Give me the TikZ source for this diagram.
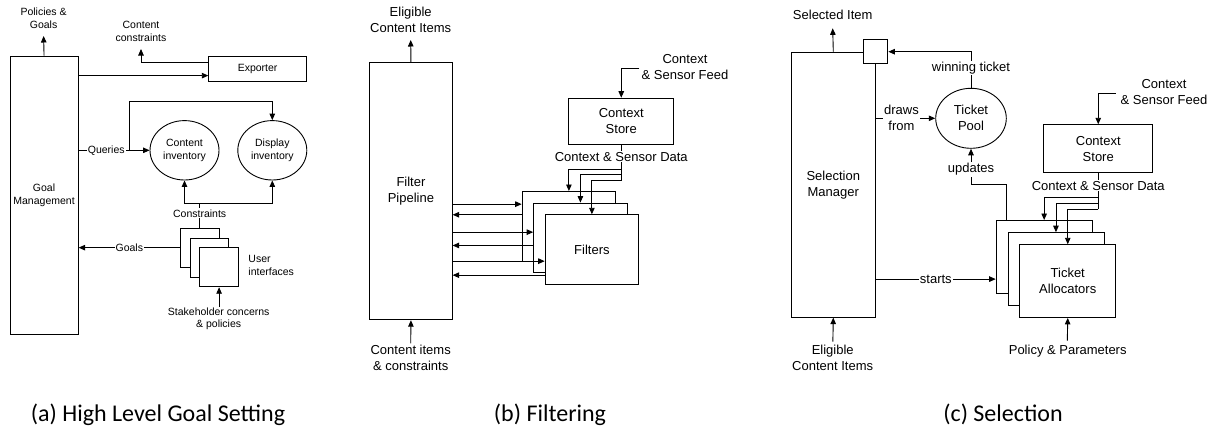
\documentclass[tikz,border=0pt]{standalone}
\usepackage{fontspec}
\setmainfont{Liberation Sans}
\newfontfamily\capfont{Carlito}
\usetikzlibrary{arrows.meta,shapes.geometric}
\begin{document}
\begin{tikzpicture}[x=1pt,y=-1pt,
  line width=0.9pt,
  >={Triangle[length=6.5pt,width=5.5pt]},
  fa/.style={font=\fontsize{10.5}{12.8}\selectfont},
  fb/.style={font=\fontsize{13}{16}\selectfont},
  box/.style={draw, fill=white, inner sep=0pt, anchor=north west, align=center},
  oval/.style={draw, ellipse, fill=white, inner sep=0pt, align=center},
  lbl/.style={inner sep=1pt, align=center},
  onl/.style={fill=white, inner sep=1pt, align=center},
  captxt/.style={font=\capfont\fontsize{24}{28}\selectfont, anchor=base, inner sep=0pt}
]
\useasboundingbox (0,0) rectangle (1215,432);

% ---------------- (a) high level goal setting ----------------
\node[box, fa, minimum width=68.2, minimum height=278.3] (gm) at (9.5,55.7) {Goal\\Management};
\node[box, fa, minimum width=97.7, minimum height=25.3] (exp) at (208.3,55.7) {Exporter};
\node[oval, fa, minimum width=69, minimum height=59.4] (ci) at (184.5,150.3) {Content\\inventory};
\node[oval, fa, minimum width=69, minimum height=59.4] (di) at (272.3,150.3) {Display\\inventory};
\node[box, minimum width=38.5, minimum height=39] (ui1) at (180,227.7) {};
\node[box, minimum width=38.5, minimum height=39] (ui2) at (189.7,237.5) {};
\node[box, minimum width=38.5, minimum height=39] (ui3) at (199.4,247.3) {};

\node[lbl, fa] (pg) at (43.6,18) {Policies \&\\Goals};
\node[lbl, fa] (cc) at (141,31) {Content\\constraints};
\node[lbl, fa, align=left, anchor=west] (uil) at (247,265.3) {User\\interfaces};
\node[lbl, fa] (sh) at (218.7,318.7) {Stakeholder concerns\\\& policies};

\coordinate (pgTip) at (43.6,36);
\coordinate (ccTip) at (141,49);
\coordinate (expIn) at ([yshift=-6.8pt]exp.west);
\coordinate (expOut) at ([yshift=6.4pt]exp.west);
\coordinate (qBranch) at (129.3,150.3);
\coordinate (diTop) at ([yshift=19pt]di.north);
\coordinate (cj) at ([yshift=24.4pt]ui1.north);
\coordinate (shTail) at ([yshift=-20pt]ui3.south);

\draw[->] (gm.north) -- (pgTip);
\draw[->] (gm.east |- expIn) -- (expIn);
\draw[->] (expOut) -| (ccTip);
\draw[->] (gm.east |- ci.west) -- node[onl, fa, pos=0.39] {Queries} (ci.west);
\draw[->] (qBranch) |- (diTop) -- (di.north);
\draw (ui1.north) -- node[onl, fa, pos=0.59] {Constraints} (cj);
\draw[->] (cj) -| (ci.south);
\draw[->] (cj) -| (di.south);
\draw[->] (ui1.west) -- node[onl, fa, pos=0.5] {Goals} (gm.east |- ui1.west);
\draw[->] (shTail) -- (ui3.south);

% ---------------- (b) filtering ----------------
\node[box, fb, minimum width=82.4, minimum height=257] (fp) at (369.3,62.3) {Filter\\Pipeline};
\node[box, fb, minimum width=105, minimum height=46.3] (cs) at (568.3,97.7) {Context\\Store};
\node[box, minimum width=93.5, minimum height=69.7] (f1) at (521.7,191) {};
\node[box, minimum width=93.5, minimum height=69.7] (f2) at (533.2,202.6) {};
\node[box, fb, minimum width=93.5, minimum height=69.7] (f3) at (544.7,214.3) {Filters};

\node[lbl, fb] (eci) at (410.7,20) {Eligible\\Content Items};
\node[lbl, fb] (cic) at (410.7,358.3) {Content items\\\& constraints};
\node[lbl, fb] (feedb) at (685,67) {Context\\\& Sensor Feed};

\coordinate (eciTip) at (410.7,40);
\coordinate (cicTail) at (410.7,343.3);
\coordinate (feedbT) at (639.3,68.3);
\coordinate (db1) at ([yshift=-24.3pt]cs.south);
\coordinate (db2) at ([yshift=-29.5pt]cs.south);
\coordinate (db3) at ([yshift=-36pt]cs.south);
\coordinate (fin1) at ([yshift=22.15pt]f1.west);
\coordinate (fout1) at ([yshift=11.55pt]f1.west);
\coordinate (fin2) at ([yshift=5.75pt]f2.west);
\coordinate (fout2) at ([yshift=-7.55pt]f2.west);
\coordinate (fin3) at ([yshift=-11.55pt]f3.west);
\coordinate (fout3) at ([yshift=-25.55pt]f3.west);

\draw[->] (fp.north) -- (eciTip);
\draw[->] (cicTail) -- (fp.south);
\draw[->] (feedbT) -| (cs.north);
\draw (cs.south) -- node[onl, fb, pos=0.325] {Context \& Sensor Data} (db3);
\draw[->] (db1) -| (f1.north);
\draw[->] (db2) -| (f2.north);
\draw[->] (db3) -| (f3.north);
\draw[->] (fp.east |- fin1) -- (fin1);
\draw[->] (fout1) -- (fp.east |- fout1);
\draw[->] (fp.east |- fin2) -- (fin2);
\draw[->] (fout2) -- (fp.east |- fout2);
\draw[->] (fp.east |- fin3) -- (fin3);
\draw[->] (fout3) -- (fp.east |- fout3);

% ---------------- (c) selection ----------------
\node[box, fb, minimum width=84.3, minimum height=265] (sm) at (790.7,51.7) {Selection\\Manager};
\node[draw, fill=white, minimum size=24, inner sep=0pt] (sq) at (sm.north east) {};
\node[oval, fb, minimum width=70.6, minimum height=60] (tp) at (971,118.3) {Ticket\\Pool};
\node[box, fb, minimum width=109, minimum height=48] (cs2) at (1043.3,124.3) {Context\\Store};
\node[box, minimum width=96, minimum height=72.7] (ta1) at (995.7,220) {};
\node[box, minimum width=96, minimum height=72.7] (ta2) at (1007.5,232.2) {};
\node[box, fb, minimum width=96, minimum height=72.7] (ta3) at (1019.3,244.3) {Ticket\\Allocators};

\node[lbl, fb] (sel) at (832.7,15) {Selected Item};
\node[lbl, fb] (feedc) at (1164,92.5) {Context\\\& Sensor Feed};
\node[lbl, fb] (pp) at (1067.7,351) {Policy \& Parameters};
\node[lbl, fb] (eci2) at (832.7,358) {Eligible\\Content Items};

\coordinate (selTip) at (832.7,28.3);
\coordinate (feedcT) at (1115.7,93.3);
\coordinate (ppTail) at (1067.3,340.7);
\coordinate (eci2Tail) at (832.85,341.7);
\coordinate (upS) at ([xshift=11pt]ta1.north west);
\coordinate (upC) at ([yshift=36pt]upS);
\coordinate (dc1) at ([yshift=-24.4pt]cs2.south);
\coordinate (dc2) at ([yshift=-30.4pt]cs2.south);
\coordinate (dc3) at ([yshift=-36pt]cs2.south);
\coordinate (stIn) at ([yshift=-22.3pt]ta1.west);

\draw[->] (sm.north) -- (selTip);
\draw[->] (tp.north) |- node[onl, fb, pos=0.275] {winning ticket} (sq.east);
\draw[->] (sm.east |- tp.west) -- node[onl, fb, pos=0.43] {draws\\from} (tp.west);
\draw[->] (upS) -- (upC) -| node[onl, fb, pos=0.706] {updates} (tp.south);
\draw[->] (feedcT) -| (cs2.north);
\draw (cs2.south) -- node[onl, fb, pos=0.35] {Context \& Sensor Data} (dc3);
\draw[->] (dc1) -| (ta1.north);
\draw[->] (dc2) -| (ta2.north);
\draw[->] (dc3) -| (ta3.north);
\draw[->] (sm.east |- stIn) -- node[onl, fb, pos=0.5] {starts} (stIn);
\draw[->] (ppTail) -- (ta3.south);
\draw[->] (eci2Tail) -- (sm.south);

% ---------------- captions ----------------
\node[captxt] (capa) at (158,421) {(a) High Level Goal Setting};
\node[captxt] (capb) at (550,421) {(b) Filtering};
\node[captxt] (capc) at (1003,421) {(c) Selection};
\end{tikzpicture}
\end{document}
